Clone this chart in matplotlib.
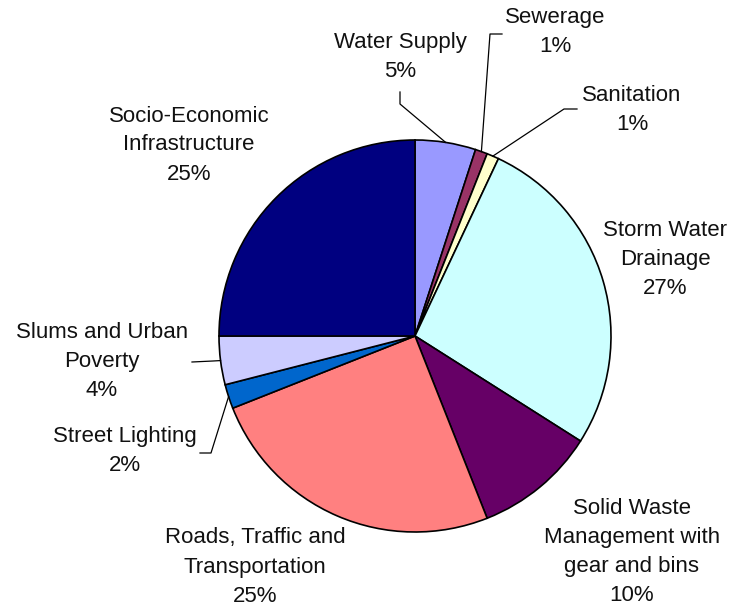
import numpy as np
import matplotlib.pyplot as plt

plt.rcParams["font.family"] = ["Liberation Sans", "DejaVu Sans"]

# Share of project cost by sector (%)
sectors = ["Water Supply", "Sewerage", "Sanitation", "Storm Water\nDrainage",
           "Solid Waste\nManagement with\ngear and bins",
           "Roads, Traffic and\nTransportation", "Street Lighting",
           "Slums and Urban\nPoverty", "Socio-Economic\nInfrastructure"]
shares = [5, 1, 1, 27, 10, 25, 2, 4, 25]
colors = ["#9999FF", "#993366", "#FFFFCC", "#CCFFFF", "#660066",
          "#FF8080", "#0066CC", "#CCCCFF", "#000080"]

W, H = 741, 610
fig = plt.figure(figsize=(W / 100, H / 100), dpi=100)
ax = fig.add_axes([0, 0, 1, 1])

cx, cy, r = 415, H - 336, 196
wedges, _ = ax.pie(shares, colors=colors, startangle=90, counterclock=False,
                   center=(cx, cy), radius=r, frame=True,
                   wedgeprops=dict(edgecolor="black", linewidth=1.2))
ax.set_xlim(0, W)
ax.set_ylim(0, H)
ax.set_aspect("equal")
ax.axis("off")

# label block centres (x, y from top) and leader-line elbows
label_pos = [(400, 57), (555, 32), (632, 110), (665, 260), (632, 552),
             (255, 567), (125, 451), (102, 362), (189, 145)]
leaders = {0: [(400, 92), (400, 104)],
           1: [(502, 34), (490, 34)],
           2: [(577, 109), (564, 109)],
           6: [(200, 453), (211, 453)],
           7: [(192, 362), (213, 361)]}

for i, (name, val) in enumerate(zip(sectors, shares)):
    x, y = label_pos[i]
    ax.text(x, H - y, f"{name}\n{val}%", ha="center", va="center",
            fontsize=16, linespacing=1.5, color="#111111")
    if i in leaders:
        w = wedges[i]
        mid = np.deg2rad((w.theta1 + w.theta2) / 2)
        pts = leaders[i] + [(cx + r * np.cos(mid), H - (cy + r * np.sin(mid)))]
        xs = [p[0] for p in pts]
        ys = [H - p[1] for p in pts]
        ax.plot(xs, ys, color="black", linewidth=0.9)

fig.savefig("out.png", dpi=100)
